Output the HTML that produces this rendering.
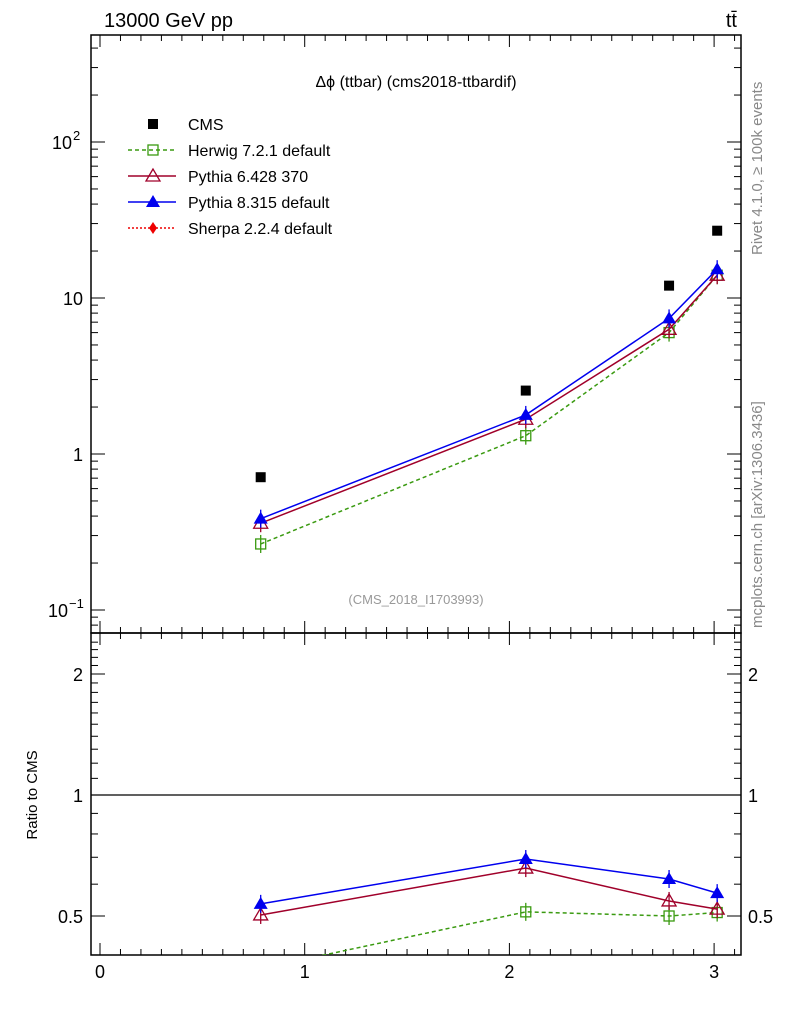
<!DOCTYPE html>
<html><head><meta charset="utf-8"><style>
body{margin:0;background:#fff}
svg text{font-family:"Liberation Sans",sans-serif}
</style></head><body>
<svg id="c" width="786" height="1024" xmlns="http://www.w3.org/2000/svg">
<rect width="786" height="1024" fill="#fff"/>
<text x="104" y="27" font-size="20">13000 GeV pp</text>
<text x="737" y="27" font-size="20" text-anchor="end">tt̄</text>
<text x="416" y="87" font-size="16" text-anchor="middle">Δϕ (ttbar) (cms2018-ttbardif)</text>
<text x="416" y="604" font-size="13" fill="#999" text-anchor="middle">(CMS_2018_I1703993)</text>
<text transform="translate(762,255) rotate(-90)" font-size="15" fill="#888">Rivet 4.1.0, ≥ 100k events</text>
<text transform="translate(762,628) rotate(-90)" font-size="15" fill="#888">mcplots.cern.ch [arXiv:1306.3436]</text>
<text transform="translate(37,795) rotate(-90)" font-size="15" text-anchor="middle">Ratio to CMS</text>
<g id="axes"></g><g id="marks"></g><g id="legend"></g>
</svg>
<script>
const xs=[0.785,2.08,2.78,3.015];
const cms=[0.71,2.55,12,27];
const herwig=[0.265,1.31,6.0,14.0];
const py6=[0.36,1.67,6.3,14.0];
const py8=[0.385,1.78,7.4,15.3];
const rHerwig=[0.37,0.512,0.50,0.51];
const rPy6=[0.503,0.658,0.545,0.52];
const rPy8=[0.536,0.693,0.618,0.57];
const xTicks=[0,1,2,3];
const NS="http://www.w3.org/2000/svg";
const L=91,R=741,T=35,M=633,B=955;
const X=v=>100+v*204.7;
const Y=v=>454-156*Math.log10(v);
const YR=v=>795-121*Math.log2(v);
function el(p,t,a){const e=document.createElementNS(NS,t);for(const k in a)e.setAttribute(k,a[k]);p.appendChild(e);return e;}
const ax=document.getElementById('axes'),mk=document.getElementById('marks'),lg=document.getElementById('legend');
let f1=el(ax,'rect',{x:L,y:T,width:R-L,height:M-T,fill:'none',stroke:'#000','stroke-width':1.5});

let f2=el(ax,'rect',{x:L,y:M,width:R-L,height:B-M,fill:'none',stroke:'#000','stroke-width':1.5});

for(let v=0;v<=3.2;v+=0.1){const x=X(v);if(x>R)break;const big=Math.abs(v-Math.round(v))<1e-6;const h=big?12:6;
 for(const [y0,d] of [[M,-1],[T,1],[B,-1],[M,1]]) el(ax,'line',{x1:x,x2:x,y1:y0,y2:y0+d*h,stroke:'#000'});}
xTicks.forEach(v=>{const t=el(ax,'text',{x:X(v),y:978,'font-size':18,'text-anchor':'middle'});t.textContent=v;
 });
for(let e=-2;e<=2;e++)for(let m=1;m<10;m++){const v=m*Math.pow(10,e);const y=Y(v);if(y<T||y>M)continue;const h=m==1?14:7;
 el(ax,'line',{x1:L,x2:L+h,y1:y,y2:y,stroke:'#000'});el(ax,'line',{x1:R,x2:R-h,y1:y,y2:y,stroke:'#000'});}
[[0.1,'10','−1'],[1,'1'],[10,'10'],[100,'10','2']].forEach(([v,b,s])=>{const t=el(ax,'text',{x:s?(s=='2'?72:68):83,y:Y(v)+7,'font-size':18,'text-anchor':'end'});
 t.textContent=b;
 if(s){const u=el(ax,'text',{x:s=='2'?73:69,y:Y(v)-2,'font-size':13,'text-anchor':'start'});u.textContent=s;}});
for(let v=0.4;v<=2.5;v+=0.1){const y=YR(v);if(y<M||y>B)continue;const big=[0.5,1,2].some(q=>Math.abs(q-v)<1e-6);const h=big?14:7;
 el(ax,'line',{x1:L,x2:L+h,y1:y,y2:y,stroke:'#000'});el(ax,'line',{x1:R,x2:R-h,y1:y,y2:y,stroke:'#000'});}
[[0.5,'0.5'],[1,'1'],[2,'2']].forEach(([v,s])=>{for(const [x,a] of [[83,'end'],[748,'start']]){const t=el(ax,'text',{x:x,y:YR(v)+7,'font-size':18,'text-anchor':a});t.textContent=s;
 }});
el(ax,'line',{x1:L,x2:R,y1:YR(1),y2:YR(1),stroke:'#000','stroke-width':1.2});
function marker(g,x,y,type,col){
 if(type=='sq')return el(g,'rect',{x:x-5,y:y-5,width:10,height:10,fill:'none',stroke:col,'stroke-width':1.3});
 if(type=='fsq')return el(g,'rect',{x:x-5,y:y-5,width:10,height:10,fill:col});
 if(type=='tri')return el(g,'polygon',{points:`${x},${y-7} ${x-7},${y+5} ${x+7},${y+5}`,fill:'none',stroke:col,'stroke-width':1.3});
 if(type=='ftri')return el(g,'polygon',{points:`${x},${y-7} ${x-7},${y+5} ${x+7},${y+5}`,fill:col});
 if(type=='dia')return el(g,'polygon',{points:`${x},${y-6} ${x-4},${y} ${x},${y+6} ${x+4},${y}`,fill:col});
}
const clip=el(document.getElementById('c'),'clipPath',{id:'cr'});el(clip,'rect',{x:L,y:M,width:R-L,height:B-M});
function series(vals,ys,col,dash,type,name,clipped){
 const g=el(mk,'g',clipped?{'clip-path':'url(#cr)'}:{});
 
 el(g,'polyline',{points:xs.map((x,i)=>X(x)+','+ys(vals[i])).join(' '),fill:'none',stroke:col,'stroke-width':1.5,'stroke-dasharray':dash});
 xs.forEach((x,i)=>{const y=ys(vals[i]);el(g,'line',{x1:X(x),x2:X(x),y1:y-9,y2:y+9,stroke:col,'stroke-width':1.3});marker(g,X(x),y,type,col);});
}
series(herwig,Y,'#3a9a10','4,3','sq','herwig-series');
series(py6,Y,'#a0002a','','tri','pythia6-series');
series(py8,Y,'#0000ee','','ftri','pythia8-series');
const gc=el(mk,'g',{});
xs.forEach((x,i)=>marker(gc,X(x),Y(cms[i]),'fsq','#000'));
series(rHerwig,YR,'#3a9a10','4,3','sq','herwig-ratio',true);
series(rPy6,YR,'#a0002a','','tri','pythia6-ratio',true);
series(rPy8,YR,'#0000ee','','ftri','pythia8-ratio',true);
const leg=[['CMS','#000','','fsq',false],['Herwig 7.2.1 default','#3a9a10','4,3','sq',true],['Pythia 6.428 370','#a0002a','','tri',true],['Pythia 8.315 default','#0000ee','','ftri',true],['Sherpa 2.2.4 default','#ee0000','2,2','dia',true]];
leg.forEach((l,i)=>{const y=124+i*26;const g=el(lg,'g',{});
 if(l[4])el(g,'line',{x1:128,x2:176,y1:y,y2:y,stroke:l[1],'stroke-width':1.5,'stroke-dasharray':l[2]});
 marker(g,153,y,l[3],l[1]);const t=el(g,'text',{x:188,y:y+6,'font-size':16});t.textContent=l[0];});
</script>
</body></html>
